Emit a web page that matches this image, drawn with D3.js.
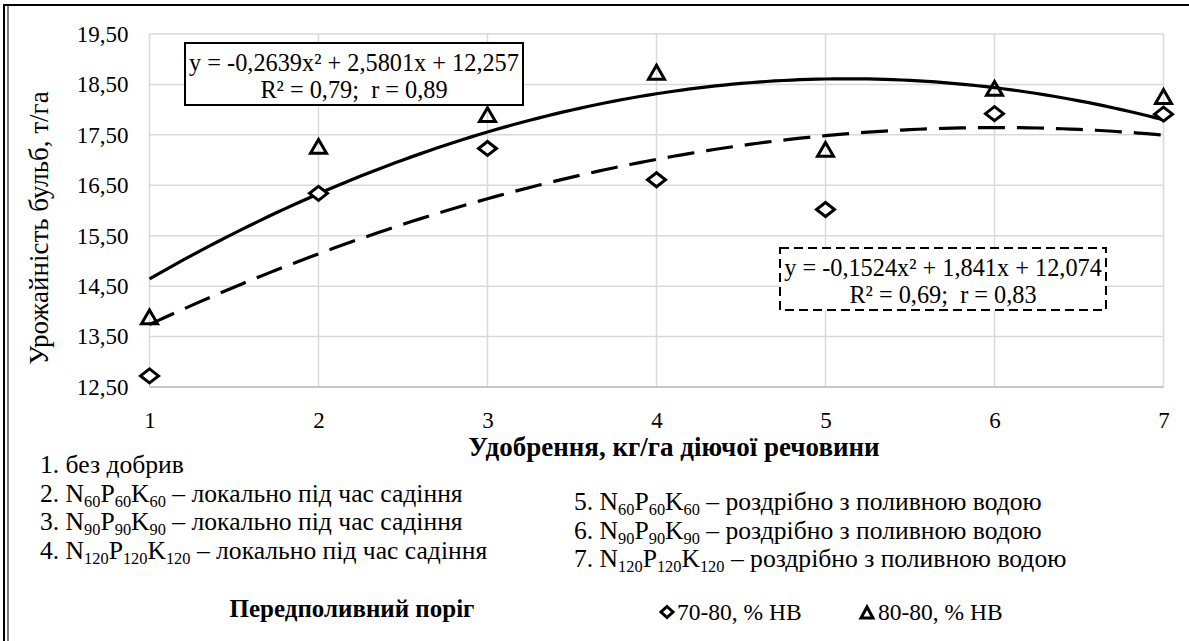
<!DOCTYPE html>
<html>
<head>
<meta charset="utf-8">
<script src="https://cdn.jsdelivr.net/npm/d3@7"></script>
<style>
  html, body { margin: 0; padding: 0; background: #fff; }
  svg { display: block; }
  svg text { font-family: "Liberation Serif", "Tinos", "DejaVu Serif", serif !important; fill: #000; white-space: pre; }
</style>
</head>
<body>
<svg id="chart" width="1189" height="641"></svg>
<script>
// ---------- DATA ----------
const categories = [1, 2, 3, 4, 5, 6, 7];
const series7080 = [12.72, 16.34, 17.23, 16.61, 16.02, 17.92, 17.91];
const series8080 = [13.89, 17.27, 17.90, 18.74, 17.21, 18.42, 18.26];
const yTicks = [12.5, 13.5, 14.5, 15.5, 16.5, 17.5, 18.5, 19.5];
const seriesNames = ["70-80, % НВ", "80-80, % НВ"];
const yTitle = "Урожайність бульб, т/га";
const xTitle = "Удобрення, кг/га діючої речовини";
const legendTitle = "Передполивний поріг";
const eqSolid = ["y = -0,2639x² + 2,5801x + 12,257", "R² = 0,79;  r = 0,89"];
const eqDashed = ["y = -0,1524x² + 1,841x + 12,074", "R² = 0,69;  r = 0,83"];
const treatmentsLeft = [
  "1. без добрив",
  "2. N_{60}P_{60}K_{60} – локально під час садіння",
  "3. N_{90}P_{90}K_{90} – локально під час садіння",
  "4. N_{120}P_{120}K_{120} – локально під час садіння"
];
const treatmentsRight = [
  "5. N_{60}P_{60}K_{60} – роздрібно з поливною водою",
  "6. N_{90}P_{90}K_{90} – роздрібно з поливною водою",
  "7. N_{120}P_{120}K_{120} – роздрібно з поливною водою"
];

// ---------- LAYOUT ----------
const W = 1189, H = 641;
const plot = { left: 149.5, right: 1163.5, top: 34, bottom: 387 };
const FS_TICK = 23, FS_TITLE = 27, FS_EQ = 24.3, FS_LEG = 25.6, FS_LEGT = 25, FS_SER = 23.5;
const FONT = "Liberation Serif, Tinos, DejaVu Serif, serif";

const svg = d3.select("#chart");
svg.append("rect").attr("width", W).attr("height", H).attr("fill", "#fff");

// outer frame
svg.append("rect").attr("x", 4).attr("y", 5).attr("width", W + 10).attr("height", H + 10)
  .attr("fill", "none").attr("stroke", "#000").attr("stroke-width", 2);
svg.append("line").attr("x1", 8).attr("x2", 8).attr("y1", 5).attr("y2", H)
  .attr("stroke", "#000").attr("stroke-width", 1);

const x = d3.scaleLinear().domain([1, 7]).range([plot.left, plot.right]);
const y = d3.scaleLinear().domain([12.5, 19.5]).range([plot.bottom, plot.top]);

// gridlines
const grid = svg.append("g");
grid.selectAll("line.h").data(yTicks).join("line")
  .attr("x1", plot.left).attr("x2", plot.right)
  .attr("y1", d => y(d)).attr("y2", d => y(d))
  .attr("stroke", "#d9d9d9").attr("stroke-width", 1.5);
grid.selectAll("line.v").data(categories).join("line")
  .attr("y1", plot.top).attr("y2", plot.bottom)
  .attr("x1", d => x(d)).attr("x2", d => x(d))
  .attr("stroke", "#d9d9d9").attr("stroke-width", 1.5);
svg.append("line").attr("x1", plot.left).attr("x2", plot.right)
  .attr("y1", plot.bottom).attr("y2", plot.bottom)
  .attr("stroke", "#c6c6c6").attr("stroke-width", 2);

// axes
const fmt = d => d.toFixed(2).replace(".", ",");
const yAxis = svg.append("g").attr("transform", `translate(${plot.left},0)`)
  .call(d3.axisLeft(y).tickValues(yTicks).tickFormat(fmt).tickSize(0).tickPadding(21))
  .attr("font-family", FONT).attr("font-size", FS_TICK);
yAxis.select(".domain").remove();

const xAxis = svg.append("g").attr("transform", `translate(0,${plot.bottom})`)
  .call(d3.axisBottom(x).tickValues(categories).tickFormat(d3.format("d")).tickSize(0).tickPadding(25))
  .attr("font-family", FONT).attr("font-size", FS_TICK);
xAxis.select(".domain").remove();

function txt(xp, yp, s, opts = {}) {
  return svg.append("text").attr("x", xp).attr("y", yp)
    .attr("font-family", FONT).attr("font-size", opts.size || FS_TICK)
    .attr("font-weight", opts.bold ? "bold" : null)
    .attr("text-anchor", opts.anchor || "start").text(s);
}

// axis titles
txt(0, 0, yTitle, { anchor: "middle", size: FS_TITLE }).attr("transform", "translate(48,228) rotate(-90)");
txt(674, 456, xTitle, { anchor: "middle", bold: true, size: FS_TITLE });

// quadratic least-squares trend
function quadFit(xs, ys) {
  const S = [0, 0, 0, 0, 0], T = [0, 0, 0];
  xs.forEach((xv, i) => {
    for (let k = 0; k <= 4; k++) S[k] += Math.pow(xv, k);
    for (let k = 0; k <= 2; k++) T[k] += Math.pow(xv, k) * ys[i];
  });
  const A = [[S[0], S[1], S[2], T[0]], [S[1], S[2], S[3], T[1]], [S[2], S[3], S[4], T[2]]];
  for (let i = 0; i < 3; i++) {
    for (let j = i + 1; j < 3; j++) {
      const f = A[j][i] / A[i][i];
      for (let k = i; k < 4; k++) A[j][k] -= f * A[i][k];
    }
  }
  const c = [0, 0, 0];
  for (let i = 2; i >= 0; i--) {
    let s = A[i][3];
    for (let k = i + 1; k < 3; k++) s -= A[i][k] * c[k];
    c[i] = s / A[i][i];
  }
  return xv => c[0] + c[1] * xv + c[2] * xv * xv;
}
const xs = d3.range(1, 7.0001, 0.05);
const line = d3.line().x(d => x(d[0])).y(d => y(d[1]));
const fSolid = quadFit(categories, series8080);
const fDashed = quadFit(categories, series7080);
svg.append("path").datum(xs.map(v => [v, fSolid(v)])).attr("d", line)
  .attr("fill", "none").attr("stroke", "#000").attr("stroke-width", 3.2);
svg.append("path").datum(xs.map(v => [v, fDashed(v)])).attr("d", line)
  .attr("fill", "none").attr("stroke", "#000").attr("stroke-width", 3.2)
  .attr("stroke-dasharray", "27,12");

// markers
const diamondPath = (w, h) => `M0,${-h}L${w},0L0,${h}L${-w},0Z`;
const trianglePath = (w, h) => `M0,${-h}L${w},${h * 0.85}L${-w},${h * 0.85}Z`;
svg.append("g").selectAll("path").data(categories).join("path")
  .attr("transform", (d, i) => `translate(${x(d)},${y(series7080[i])})`)
  .attr("d", diamondPath(9, 7)).attr("fill", "#fff").attr("stroke", "#000").attr("stroke-width", 3);
svg.append("g").selectAll("path").data(categories).join("path")
  .attr("transform", (d, i) => `translate(${x(d)},${y(series8080[i]) + 0.5})`)
  .attr("d", trianglePath(8, 7.5)).attr("fill", "none").attr("stroke", "#000").attr("stroke-width", 3);

// equation boxes
function eqBox(bx, by, bw, bh, lines, dashed) {
  svg.append("rect").attr("x", bx).attr("y", by).attr("width", bw).attr("height", bh)
    .attr("fill", "#fff").attr("stroke", "#000").attr("stroke-width", 2)
    .attr("stroke-dasharray", dashed ? "9,5" : null);
  lines.forEach((t, i) => txt(bx + bw / 2, by + 28 + i * 27, t, { anchor: "middle", size: FS_EQ }));
}
eqBox(185, 43, 338, 62, eqSolid, false);
eqBox(780, 248, 326, 62, eqDashed, true);

// treatment legend with subscripts
function richText(tx, ty, str) {
  const t = txt(tx, ty, null, { size: FS_LEG });
  const parts = str.split(/(_\{[^}]*\})/).filter(s => s.length);
  let shifted = false;
  parts.forEach(p => {
    if (p.startsWith("_{")) {
      t.append("tspan").attr("dy", shifted ? 0 : 5).attr("font-size", FS_LEG * 0.64).text(p.slice(2, -1));
      shifted = true;
    } else {
      t.append("tspan").attr("dy", shifted ? -5 : 0).text(p);
      shifted = false;
    }
  });
}
treatmentsLeft.forEach((s, i) => richText(40, 473 + i * 28.5, s));
treatmentsRight.forEach((s, i) => richText(574, 510 + i * 28.5, s));

// series legend
txt(352, 617, legendTitle, { anchor: "middle", bold: true, size: FS_LEGT });
svg.append("path").attr("transform", "translate(667,612)").attr("d", diamondPath(6, 5.5))
  .attr("fill", "#fff").attr("stroke", "#000").attr("stroke-width", 3);
txt(677, 620, seriesNames[0], { size: FS_SER });
svg.append("path").attr("transform", "translate(867,613)").attr("d", trianglePath(6, 6))
  .attr("fill", "#fff").attr("stroke", "#000").attr("stroke-width", 3);
txt(878, 620, seriesNames[1], { size: FS_SER });
</script>
</body>
</html>
